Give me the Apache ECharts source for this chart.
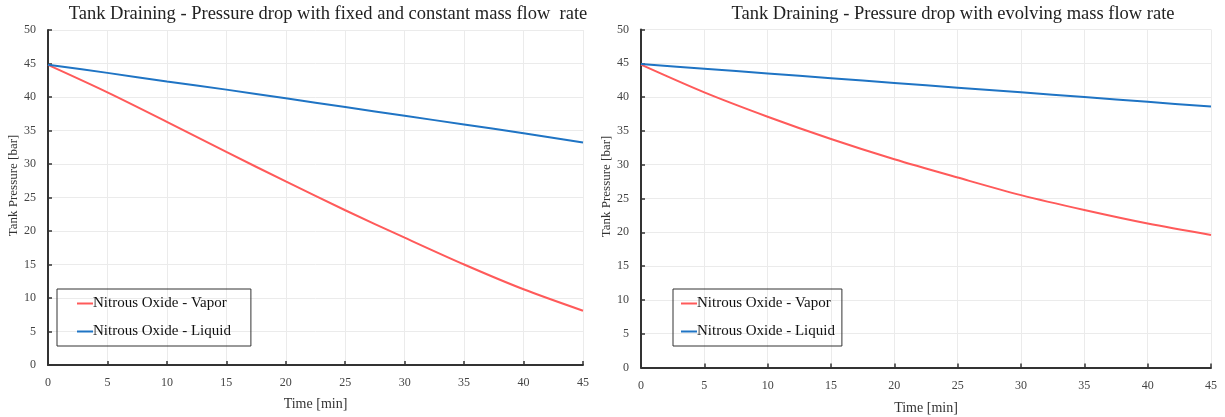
<!DOCTYPE html>
<html>
<head>
<meta charset="utf-8">
<script src="https://cdn.jsdelivr.net/npm/echarts@6/dist/echarts.min.js"></script>
<style>html,body{margin:0;padding:0;background:#fff}#c{width:1225px;height:417px}</style>
</head>
<body>
<div id="c"></div>
<script>
const time = [0, 5, 10, 15, 20, 25, 30, 35, 40, 45];
const xTicks = [0, 5, 10, 15, 20, 25, 30, 35, 40, 45];
const yTicks = [0, 5, 10, 15, 20, 25, 30, 35, 40, 45, 50];
const titles = ['Tank Draining - Pressure drop with fixed and constant mass flow  rate', 'Tank Draining - Pressure drop with evolving mass flow rate'];
const seriesNames = ['Nitrous Oxide - Vapor', 'Nitrous Oxide - Liquid'];
const fixedVapor = [44.8, 40.7, 36.3, 31.8, 27.4, 23.1, 19.0, 15.0, 11.3, 8.1];
const fixedLiquid = [44.8, 43.6, 42.3, 41.1, 39.8, 38.5, 37.2, 35.9, 34.6, 33.2];
const evolvingVapor = [44.8, 40.7, 37.1, 33.8, 30.8, 28.1, 25.5, 23.3, 21.3, 19.6];
const evolvingLiquid = [44.9, 44.2, 43.5, 42.8, 42.1, 41.4, 40.7, 40.0, 39.3, 38.6];

const colors = ['#ff5a5a', '#1f74c4'];
const serif = 'Liberation Serif';
const chart = echarts.init(document.getElementById('c'));
const pairs = (xs, ys) => xs.map((x, i) => [x, ys[i]]);

function xAx(i, gap) {
  return {
    type: 'value', gridIndex: i, min: 0, max: 45, interval: 5,
    name: 'Time [min]', nameLocation: 'middle', nameGap: gap,
    nameTextStyle: {fontFamily: serif, fontSize: 14, color: '#333'},
    axisLine: {show: true, lineStyle: {color: '#333', width: 2}},
    axisTick: {show: true, inside: true, length: 4, lineStyle: {color: '#333', width: 1.5}},
    axisLabel: {fontFamily: serif, fontSize: 12, color: '#444', margin: 12},
    splitLine: {show: true, lineStyle: {color: '#ebebeb', width: 1}}
  };
}
function yAx(i, gap) {
  return {
    type: 'value', gridIndex: i, min: 0, max: 50, interval: 5,
    name: 'Tank Pressure [bar]', nameLocation: 'middle', nameGap: gap,
    nameTextStyle: {fontFamily: serif, fontSize: 13, color: '#333', padding: [0, 0, 0, 24]},
    axisLine: {show: true, lineStyle: {color: '#333', width: 2}},
    axisTick: {show: true, inside: true, length: 4, lineStyle: {color: '#333', width: 1.5}},
    axisLabel: {fontFamily: serif, fontSize: 12, color: '#444', margin: 12},
    splitLine: {show: true, lineStyle: {color: '#ebebeb', width: 1}}
  };
}
function ser(name, data, i, ci) {
  return {
    name, type: 'line', xAxisIndex: i, yAxisIndex: i, data: pairs(time, data),
    smooth: 0.3, showSymbol: false, symbol: 'none',
    lineStyle: {color: colors[ci], width: 2}, itemStyle: {color: colors[ci]}
  };
}
function legend(left, padding) {
  return {
    orient: 'vertical', left, top: 289, data: seriesNames,
    icon: 'rect', itemWidth: 16, itemHeight: 2, itemGap: 13,
    padding, borderColor: '#333', borderWidth: 1,
    textStyle: {fontFamily: serif, fontSize: 15, color: '#111', padding: [0, 0, 0, -5]}
  };
}

chart.setOption({
  animation: false,
  title: [
    {text: titles[0], left: 323, top: 0, textAlign: 'center', textStyle: {fontFamily: serif, fontSize: 18.5, fontWeight: 'normal', color: '#222'}},
    {text: titles[1], left: 948, top: 0, textAlign: 'center', textStyle: {fontFamily: serif, fontSize: 18.5, fontWeight: 'normal', color: '#222'}}
  ],
  legend: [legend(57, [7, 20, 7, 20]), legend(673, [7, 7, 7, 8])],
  grid: [
    {left: 48, right: 642, top: 30, bottom: 52, outerBoundsMode: 'none', containLabel: false},
    {left: 641, right: 14, top: 29.5, bottom: 49.5, outerBoundsMode: 'none', containLabel: false}
  ],
  xAxis: [xAx(0, 32), xAx(1, 34)],
  yAxis: [yAx(0, 28), yAx(1, 25)],
  series: [
    ser(seriesNames[0], fixedVapor, 0, 0),
    ser(seriesNames[1], fixedLiquid, 0, 1),
    ser(seriesNames[0], evolvingVapor, 1, 0),
    ser(seriesNames[1], evolvingLiquid, 1, 1)
  ]
});
</script>
</body>
</html>
